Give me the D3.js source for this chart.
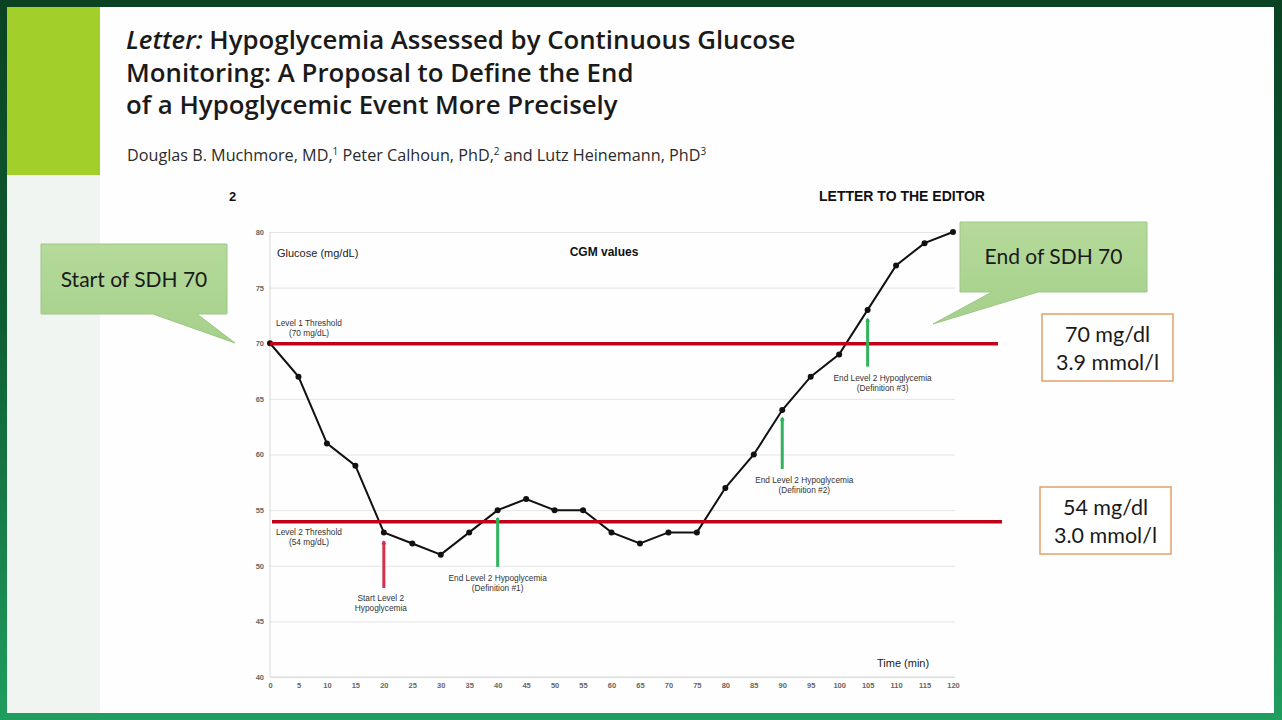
<!DOCTYPE html>
<html>
<head>
<meta charset="utf-8">
<script src="https://cdn.jsdelivr.net/npm/d3@7/dist/d3.min.js"></script>
<style>
  html, body { margin: 0; padding: 0; background: #0b4424; }
  svg { display: block; }
</style>
</head>
<body>
<svg id="slide" width="1282" height="720"></svg>
<script>
// CGM readings every 5 minutes
var times   = [0, 5, 10, 15, 20, 25, 30, 35, 40, 45, 50, 55, 60, 65, 70, 75, 80, 85, 90, 95, 100, 105, 110, 115, 120];
var glucose = [70, 67, 61, 59, 53, 52, 51, 53, 55, 56, 55, 55, 53, 52, 53, 53, 57, 60, 64, 67, 69, 73, 77, 79, 80];

var xTicks = [0, 5, 10, 15, 20, 25, 30, 35, 40, 45, 50, 55, 60, 65, 70, 75, 80, 85, 90, 95, 100, 105, 110, 115, 120];
var yTicks = [40, 45, 50, 55, 60, 65, 70, 75, 80];

var thresholds = [70, 54];
var thresholdNames = ["Level 1 Threshold", "Level 2 Threshold"];
var thresholdUnits = ["(70 mg/dL)", "(54 mg/dL)"];

// arrows: time, bottom value, top value
var arrowTimes  = [20, 40, 90, 105];
var arrowFrom   = [48, 49.9, 58.7, 67.9];
var arrowTo     = [52.2, 54.3, 63.3, 72.2];
var arrowLine1  = ["Start Level 2", "End Level 2 Hypoglycemia", "End Level 2 Hypoglycemia", "End Level 2 Hypoglycemia"];
var arrowLine2  = ["Hypoglycemia", "(Definition #1)", "(Definition #2)", "(Definition #3)"];

var svg = d3.select("#slide");
var defs = svg.append("defs");

// frame gradient
var fg = defs.append("linearGradient").attr("id", "frame").attr("x1", 0).attr("y1", 0).attr("x2", 0).attr("y2", 1);
fg.append("stop").attr("offset", "0%").attr("stop-color", "#0a4222");
fg.append("stop").attr("offset", "45%").attr("stop-color", "#0f5e33");
fg.append("stop").attr("offset", "100%").attr("stop-color", "#1f9e5f");

var cg = defs.append("linearGradient").attr("id", "callout").attr("x1", 0).attr("y1", 0).attr("x2", 0).attr("y2", 1);
cg.append("stop").attr("offset", "0%").attr("stop-color", "#b5da9b");
cg.append("stop").attr("offset", "100%").attr("stop-color", "#a5d08a");

svg.append("rect").attr("width", 1282).attr("height", 720).attr("fill", "url(#frame)");
svg.append("rect").attr("x", 7).attr("y", 7).attr("width", 1267).attr("height", 706).attr("fill", "#fefefe");
svg.append("rect").attr("x", 7).attr("y", 175).attr("width", 93).attr("height", 538).attr("fill", "#f1f5f2");
svg.append("rect").attr("x", 7).attr("y", 7).attr("width", 93).attr("height", 168).attr("fill", "#a3cf2a");

// header
var title = svg.append("text")
    .attr("font-family", "'Open Sans', 'Noto Sans', sans-serif")
    .attr("font-weight", 600)
    .attr("font-size", 25.8)
    .attr("fill", "#1a1a1a");
var titleLines = ["Hypoglycemia Assessed by Continuous Glucose", "Monitoring: A Proposal to Define the End", "of a Hypoglycemic Event More Precisely"];
titleLines.forEach(function(t, i) {
  var tl = title.append("tspan").attr("x", 126).attr("y", 49 + i * 32.5);
  if (i === 0) tl.append("tspan").attr("font-style", "italic").text("Letter: ");
  tl.append("tspan").text(t);
});

var authors = svg.append("text")
    .attr("x", 127).attr("y", 161)
    .attr("font-family", "'Open Sans', 'Noto Sans', sans-serif")
    .attr("font-size", 16.2)
    .attr("fill", "#2a2a2a");
var authorParts = [["Douglas B. Muchmore, MD,", "1"], [" Peter Calhoun, PhD,", "2"], [" and Lutz Heinemann, PhD", "3"]];
authorParts.forEach(function(p, i) {
  authors.append("tspan").attr("dy", i === 0 ? 0 : 6).text(p[0]);
  authors.append("tspan").attr("font-size", 10).attr("dy", -6).text(p[1]);
});

svg.append("text").attr("x", 229).attr("y", 201)
    .attr("font-family", "'Liberation Sans', Arial, sans-serif").attr("font-weight", "bold")
    .attr("font-size", 13).attr("fill", "#111").text("2");
svg.append("text").attr("x", 819).attr("y", 201)
    .attr("font-family", "'Liberation Sans', Arial, sans-serif").attr("font-weight", "bold")
    .attr("font-size", 14).attr("fill", "#111").text("LETTER TO THE EDITOR");

// chart
var x = d3.scaleLinear().domain([0, 120]).range([270, 953]);
var y = d3.scaleLinear().domain([40, 80]).range([677, 232]);

var chart = svg.append("g").attr("font-family", "'Liberation Sans', Arial, sans-serif");

// gridlines
chart.append("g")
    .attr("transform", "translate(270,0)")
    .call(d3.axisLeft(y).tickValues(yTicks).tickSize(-685).tickFormat(""))
    .call(function(g) {
      g.select(".domain").remove();
      g.selectAll("line").attr("stroke", "#e4e4e4");
    });

chart.append("line").attr("x1", 270).attr("x2", 270).attr("y1", y(80)).attr("y2", y(40)).attr("stroke", "#d8d8d8");
chart.append("line").attr("x1", 270).attr("x2", 955).attr("y1", y(40)).attr("y2", y(40)).attr("stroke", "#d8d8d8");

// y tick labels
chart.append("g")
    .attr("transform", "translate(264,0)")
    .call(d3.axisLeft(y).tickValues(yTicks).tickSize(0).tickPadding(0))
    .call(function(g) {
      g.select(".domain").remove();
      g.selectAll("text").attr("font-size", 7.5).attr("font-weight", "bold").attr("fill", "#666")
        .attr("font-family", "'Liberation Sans', Arial, sans-serif");
    });

// x tick labels
chart.append("g")
    .attr("transform", "translate(0,681)")
    .call(d3.axisBottom(x).tickValues(xTicks).tickSize(0).tickPadding(2))
    .call(function(g) {
      g.select(".domain").remove();
      g.selectAll("text").attr("font-size", 7.5).attr("font-weight", "bold").attr("fill", "#666")
        .attr("font-family", "'Liberation Sans', Arial, sans-serif");
    });

chart.append("text").attr("x", 277).attr("y", 257).attr("font-size", 11).attr("fill", "#222").text("Glucose (mg/dL)");
chart.append("text").attr("x", 604).attr("y", 256).attr("text-anchor", "middle").attr("font-size", 12)
    .attr("font-weight", "bold").attr("fill", "#111").text("CGM values");
chart.append("text").attr("x", 877).attr("y", 667).attr("font-size", 11).attr("fill", "#222").text("Time (min)");

// threshold labels
thresholds.forEach(function(v, i) {
  var ty = i === 0 ? y(v) - 17 : y(v) + 14;
  chart.append("text").attr("x", 309).attr("y", ty).attr("text-anchor", "middle")
      .attr("font-size", 8.3).attr("fill", "#333").text(thresholdNames[i]);
  chart.append("text").attr("x", 309).attr("y", ty + 9.5).attr("text-anchor", "middle")
      .attr("font-size", 8.3).attr("fill", "#333").text(thresholdUnits[i]);
});

// glucose line
var pts = times.map(function(t, i) { return [t, glucose[i]]; });
chart.append("path")
    .datum(pts)
    .attr("fill", "none")
    .attr("stroke", "#111")
    .attr("stroke-width", 2)
    .attr("d", d3.line().x(function(d) { return x(d[0]); }).y(function(d) { return y(d[1]); }));

chart.selectAll("circle.pt")
  .data(pts)
  .enter().append("circle")
    .attr("class", "pt")
    .attr("cx", function(d) { return x(d[0]); })
    .attr("cy", function(d) { return y(d[1]); })
    .attr("r", 3)
    .attr("fill", "#111");

// red threshold lines (overlay)
chart.selectAll("line.thr")
  .data(thresholds)
  .enter().append("line")
    .attr("class", "thr")
    .attr("x1", function(d, i) { return i === 0 ? 270 : 272; })
    .attr("x2", function(d, i) { return i === 0 ? 998 : 1002; })
    .attr("y1", function(d) { return y(d) + 0.5; })
    .attr("y2", function(d) { return y(d) + 0.5; })
    .attr("stroke", "#c10019")
    .attr("stroke-width", 3.5);

// arrows
arrowTimes.forEach(function(t, i) {
  var col = i === 0 ? "#d3304a" : "#2fb35c";
  chart.append("line")
      .attr("x1", x(t)).attr("x2", x(t))
      .attr("y1", y(arrowFrom[i])).attr("y2", y(arrowTo[i]))
      .attr("stroke", col).attr("stroke-width", 3);
  chart.append("path")
      .attr("d", "M" + (x(t) - 2.5) + "," + (y(arrowTo[i]) + 3) + "L" + x(t) + "," + (y(arrowTo[i]) - 1) + "L" + (x(t) + 2.5) + "," + (y(arrowTo[i]) + 3) + "Z")
      .attr("fill", col);
  var cx = i === 0 ? x(t) - 3 : x(t) + (i === 1 ? 0 : (i === 2 ? 22 : 15));
  var by = y(arrowFrom[i]) + (i === 0 ? 13 : 14);
  chart.append("text").attr("x", cx).attr("y", by).attr("text-anchor", "middle")
      .attr("font-size", 8.3).attr("fill", "#333").text(arrowLine1[i]);
  chart.append("text").attr("x", cx).attr("y", by + 10).attr("text-anchor", "middle")
      .attr("font-size", 8.3).attr("fill", "#333").text(arrowLine2[i]);
});

// callouts
function callout(x0, y0, w, h, b1, b2, tip, label, ty) {
  var p = "M" + x0 + "," + y0 + "H" + (x0 + w) + "V" + (y0 + h) + "H" + b2 + "L" + tip[0] + "," + tip[1] +
          "L" + b1 + "," + (y0 + h) + "H" + x0 + "Z";
  svg.append("path").attr("d", p).attr("fill", "url(#callout)").attr("stroke", "#9bc784").attr("stroke-width", 1);
  svg.append("text").attr("x", x0 + w / 2).attr("y", ty).attr("text-anchor", "middle")
      .attr("font-family", "Lato, 'Open Sans', sans-serif").attr("font-size", 21).attr("fill", "#1a1a1a").text(label);
}
callout(41, 244, 186, 70, 153, 197, [235, 343], "Start of SDH 70", 287);
callout(960, 222, 187, 70, 992, 1038, [933, 324], "End of SDH 70", 264);

// unit boxes
function unitBox(x0, y0, l1, l2) {
  svg.append("rect").attr("x", x0).attr("y", y0).attr("width", 131).attr("height", 67)
      .attr("fill", "#fff").attr("stroke", "#e2a06a").attr("stroke-width", 1.5);
  var t = svg.append("text").attr("text-anchor", "middle")
      .attr("font-family", "Lato, 'Open Sans', sans-serif").attr("font-size", 21.5).attr("fill", "#1a1a1a");
  t.append("tspan").attr("x", x0 + 65.5).attr("y", y0 + 28).text(l1);
  t.append("tspan").attr("x", x0 + 65.5).attr("y", y0 + 56).text(l2);
}
unitBox(1042, 314, "70 mg/dl", "3.9 mmol/l");
unitBox(1040, 487, "54 mg/dl", "3.0 mmol/l");
</script>
</body>
</html>
